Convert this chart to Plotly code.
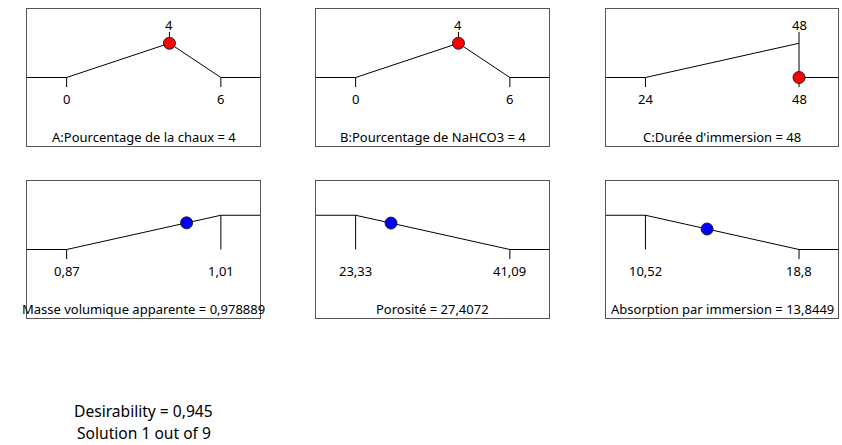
import numpy as np
import plotly.graph_objects as go

# ---- optimisation ramps: factors (top row) and responses (bottom row) ----
factor_names = ["A:Pourcentage de la chaux", "B:Pourcentage de NaHCO3", "C:Durée d'immersion"]
factor_low = [0, 0, 24]
factor_high = [6, 6, 48]
factor_setting = [4, 4, 48]
factor_goal = ["target", "target", "maximize"]
factor_dot_level = [1, 1, 0]
factor_low_labels = ["0", "0", "24"]
factor_high_labels = ["6", "6", "48"]
factor_setting_labels = ["4", "4", "48"]

response_names = ["Masse volumique apparente", "Porosité", "Absorption par immersion"]
response_low = [0.87, 23.33, 10.52]
response_high = [1.01, 41.09, 18.8]
response_value = [0.978889, 27.4072, 13.8449]
response_goal = ["maximize", "minimize", "minimize"]
response_low_labels = ["0,87", "23,33", "10,52"]
response_high_labels = ["1,01", "41,09", "18,8"]
response_value_labels = ["0,978889", "27,4072", "13,8449"]

desirability_text = "Desirability = 0,945"
solution_text = "Solution 1 out of 9"

# ---- layout geometry ----
W, H = 842, 445
col_px = [(27, 260), (316, 549), (606, 838)]
row_px = [(9, 146), (181, 318)]
LO_FRAC, HI_FRAC = 0.17, 0.832
Y_RANGE = [-2, 2]
TICK_BELOW = -0.28
TICK_ABOVE = 1.33
LABEL_BELOW = -0.62
LABEL_ABOVE = 1.53
TITLE_Y = -1.74
FONT = "Noto Sans"
FS = 13
FS_FOOT = 15.6
LINE = dict(color="black", width=1)
RED = "#ff0000"
BLUE = "#0000ff"

fig = go.Figure()


def axis_range(lo, hi):
    span = (hi - lo) / (HI_FRAC - LO_FRAC)
    return [lo - LO_FRAC * span, lo + (1 - LO_FRAC) * span]


def ramp(goal, lo, hi, target, x0, x1):
    if goal == "target":
        return [x0, lo, target, hi, x1], [0, 0, 1, 0, 0]
    if goal == "maximize":
        return [x0, lo, hi, x1], [0, 0, 1, 1]
    return [x0, lo, hi, x1], [1, 1, 0, 0]


annotations = []
idx = 0
for r in range(2):
    for c in range(3):
        idx += 1
        xa = "x" if idx == 1 else f"x{idx}"
        ya = "y" if idx == 1 else f"y{idx}"
        xk = "xaxis" if idx == 1 else f"xaxis{idx}"
        yk = "yaxis" if idx == 1 else f"yaxis{idx}"
        if r == 0:
            lo, hi = factor_low[c], factor_high[c]
            goal = factor_goal[c]
            pt_x = factor_setting[c]
            pt_y = factor_dot_level[c]
            color = RED
            lo_lab, hi_lab = factor_low_labels[c], factor_high_labels[c]
            title = f"{factor_names[c]} = {factor_setting_labels[c]}"
        else:
            lo, hi = response_low[c], response_high[c]
            goal = response_goal[c]
            pt_x = response_value[c]
            if goal == "maximize":
                pt_y = float(np.interp(pt_x, [lo, hi], [0, 1]))
            else:
                pt_y = float(np.interp(pt_x, [lo, hi], [1, 0]))
            color = BLUE
            lo_lab, hi_lab = response_low_labels[c], response_high_labels[c]
            title = f"{response_names[c]} = {response_value_labels[c]}"

        rng = axis_range(lo, hi)
        xs, ys = ramp(goal, lo, hi, pt_x, rng[0], rng[1])
        if r == 0 and goal == "maximize":
            # ramp drops back to the baseline at the upper limit
            xs = [rng[0], lo, hi, hi, rng[1]]
            ys = [0, 0, 1, 0, 0]
        fig.add_trace(go.Scatter(x=xs, y=ys, mode="lines", line=LINE,
                                 xaxis=xa, yaxis=ya, hoverinfo="skip", showlegend=False))

        # limit ticks: vertical from the ramp level to the baseline, or a short tick below it
        for xv in (lo, hi):
            levels = [ys[i] for i in range(len(xs)) if xs[i] == xv]
            if 0 in levels:
                seg = [0, TICK_BELOW]
            else:
                seg = [max(levels), 0]
            fig.add_trace(go.Scatter(x=[xv, xv], y=seg, mode="lines", line=LINE,
                                     xaxis=xa, yaxis=ya, hoverinfo="skip", showlegend=False))

        if r == 0:
            fig.add_trace(go.Scatter(x=[pt_x, pt_x], y=[1, TICK_ABOVE], mode="lines", line=LINE,
                                     xaxis=xa, yaxis=ya, hoverinfo="skip", showlegend=False))
            annotations.append(dict(x=pt_x, y=LABEL_ABOVE, xref=xa, yref=ya,
                                    text=factor_setting_labels[c], showarrow=False,
                                    font=dict(family=FONT, size=FS, color="black")))

        fig.add_trace(go.Scatter(x=[pt_x], y=[pt_y], mode="markers",
                                 marker=dict(size=12, color=color, line=dict(color="#222222", width=1)),
                                 xaxis=xa, yaxis=ya, hoverinfo="skip", showlegend=False))

        for xv, lab in ((lo, lo_lab), (hi, hi_lab)):
            annotations.append(dict(x=xv, y=LABEL_BELOW, xref=xa, yref=ya, text=lab,
                                    showarrow=False, font=dict(family=FONT, size=FS, color="black")))
        annotations.append(dict(x=(rng[0] + rng[1]) / 2, y=TITLE_Y, xref=xa, yref=ya, text=title,
                                showarrow=False, font=dict(family=FONT, size=FS, color="black")))

        x0p, x1p = col_px[c]
        y0p, y1p = row_px[r]
        fig.layout[xk] = dict(domain=[x0p / W, x1p / W], range=rng, anchor=ya,
                              showgrid=False, zeroline=False, showticklabels=False, ticks="",
                              showline=True, mirror=True, linecolor="#555555", linewidth=1,
                              fixedrange=True)
        fig.layout[yk] = dict(domain=[1 - y1p / H, 1 - y0p / H], range=Y_RANGE, anchor=xa,
                              showgrid=False, zeroline=False, showticklabels=False, ticks="",
                              showline=True, mirror=True, linecolor="#555555", linewidth=1,
                              fixedrange=True)

cx = sum(col_px[0]) / 2 / W
annotations.append(dict(x=cx, y=1 - 411 / H, xref="paper", yref="paper", text=desirability_text,
                        xanchor="center", yanchor="middle", showarrow=False,
                        font=dict(family=FONT, size=FS_FOOT, color="black")))
annotations.append(dict(x=cx, y=1 - 433 / H, xref="paper", yref="paper", text=solution_text,
                        xanchor="center", yanchor="middle", showarrow=False,
                        font=dict(family=FONT, size=FS_FOOT, color="black")))

fig.update_layout(width=W, height=H, margin=dict(l=0, r=0, t=0, b=0),
                  paper_bgcolor="white", plot_bgcolor="white",
                  annotations=annotations, showlegend=False)

fig.write_html("out.html", config={"displayModeBar": False})
